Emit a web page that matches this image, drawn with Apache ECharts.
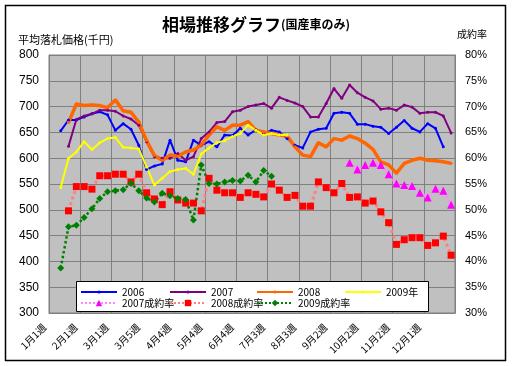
<!DOCTYPE html>
<html><head><meta charset="utf-8">
<script src="https://cdn.jsdelivr.net/npm/echarts@6/dist/echarts.min.js"></script>
<style>html,body{margin:0;padding:0;background:#fff}#c{width:512px;height:366px}</style>
</head><body><div id="c"></div>
<script>
const weeks = ['1月1週','1月2週','1月3週','1月4週','2月1週','2月2週','2月3週','2月4週',
  '3月1週','3月2週','3月3週','3月4週','3月5週','4月1週','4月2週','4月3週',
  '4月4週','5月1週','5月2週','5月3週','5月4週','6月1週','6月2週','6月3週',
  '6月4週','6月5週','7月1週','7月2週','7月3週','7月4週','8月1週','8月2週',
  '8月3週','8月4週','8月5週','9月1週','9月2週','9月3週','9月4週','10月1週',
  '10月2週','10月3週','10月4週','11月1週','11月2週','11月3週','11月4週','11月5週',
  '12月1週','12月2週','12月3週','12月4週'];

const price2006 = [null,653,674,674,680,686,690,684,654,667,656,625,578,585,589,635,596,593,635,625,632,622,645,644,658,645,655,648,654,651,638,625,620,651,656,658,687,689,687,666,666,662,660,648,660,673,658,651,667,658,622,null];
const price2007 = [null,null,623,675,682,686,693,693,691,682,676,664,632,603,600,600,609,596,603,638,651,669,671,690,693,700,703,706,697,718,712,707,700,680,680,706,735,716,742,727,718,711,695,697,693,703,699,687,689,689,682,649];
const price2008 = [null,null,669,705,702,703,702,698,713,692,689,670,634,605,596,606,604,612,616,625,645,661,654,664,664,671,654,651,648,645,643,622,606,603,630,622,638,635,643,638,629,617,593,587,571,590,596,600,596,595,593,590];
const price2009 = [null,543,600,612,632,617,630,638,640,621,620,618,583,548,561,574,578,580,569,608,620,630,634,642,648,664,654,645,648,645,645,null,null,null,null,null,null,null,null,null,null,null,null,null,null,null,null,null,null,null,null,null];
const rate2007 = [null,null,null,null,null,null,null,null,null,null,null,null,null,null,null,null,null,null,null,null,null,null,null,null,null,null,null,null,null,null,null,null,null,null,null,null,null,null,59.1,57.8,58.7,59.1,58.7,56.9,55.1,54.8,54.6,53.3,52.4,54.1,53.7,51.0];
const rate2008 = [null,null,49.8,54.5,54.5,54.0,56.6,56.6,56.9,56.9,55.4,56.9,53.3,52.1,51.0,53.5,51.9,51.3,51.3,49.8,56.1,53.8,53.3,53.3,52.4,53.3,53.0,52.5,55.0,53.8,52.4,52.8,50.7,50.7,55.4,54.3,53.3,55.1,52.4,52.5,51.3,51.7,49.6,47.5,43.3,44.2,44.6,44.6,43.1,43.6,44.9,41.2];
const rate2009 = [null,38.7,46.7,47.0,48.5,50.2,52.2,53.5,53.7,53.9,55.1,53.7,52.3,51.5,53.2,52.7,52.2,52.0,48.0,58.7,55.1,55.0,55.4,55.7,55.6,56.7,55.4,57.6,56.5,null,null,null,null,null,null,null,null,null,null,null,null,null,null,null,null,null,null,null,null,null,null,null];

const seriesNames = ['2006','2007','2008','2009年','2007成約率','2008成約率','2009成約率'];
const priceAxis = {min:300, max:800, step:50};
const rateAxis = {min:30, max:80, step:5};

const FONT = '"Noto Sans CJK JP", "Liberation Sans", sans-serif';
const NUMFONT = '"Liberation Sans", Arial, sans-serif';

function mk(name, data, axis, color, width, symbol, size, lineColor, lineType, symColor) {
  return {
    name, type:'line', data, yAxisIndex:axis, symbol, symbolSize:size,
    showSymbol:true, showAllSymbol:true, connectNulls:false, animation:false,
    lineStyle:{color:lineColor||color, width, type:lineType||'solid'},
    itemStyle:{color:symColor||color, borderWidth:0},
    emphasis:{disabled:true}
  };
}

const series = [
  mk(seriesNames[0], price2006, 0, '#0000FF', 2, 'circle', 3),
  mk(seriesNames[1], price2007, 0, '#800080', 2, 'circle', 3),
  mk(seriesNames[2], price2008, 0, '#FF6600', 3.5, 'circle', 3),
  mk(seriesNames[3], price2009, 0, '#FFFF00', 2, 'circle', 3),
  mk(seriesNames[4], rate2007, 1, '#FF00FF', 3, 'triangle', 8, '#FF88FF', 'dotted'),
  mk(seriesNames[5], rate2008, 1, '#FF0000', 3, 'rect', 7, '#FF8080', 'dotted'),
  mk(seriesNames[6], rate2009, 1, '#008000', 2.5, 'diamond', 7, '#008000', 'dotted')
];

const legPos = [[80,285],[169,285],[256,285],[344,285],[80,298],[169,298],[256,298]];
const legends = seriesNames.map((n,i)=>({
  data:[n], left:legPos[i][0], top:legPos[i][1] + (i < 4 ? 2 : 0), itemWidth:36, itemHeight:(i < 4 ? 4 : 8), itemGap:0,
  padding:0, z:20, selectedMode:false,
  textStyle:{fontSize:10, color:'#000', fontFamily:FONT}
}));

const option = {
  animation:false,
  backgroundColor:'#fff',
  title:{
    text:'{a|相場推移グラフ}{b|(国産車のみ)}', left:'center', top:11,
    textStyle:{rich:{
      a:{fontSize:17, fontWeight:'bold', fontFamily:FONT, color:'#000'},
      b:{fontSize:12, fontWeight:'bold', fontFamily:FONT, color:'#000'}
    }}
  },
  legend: legends,
  grid:{left:49, right:57, top:55, bottom:53, show:true, backgroundColor:'#C0C0C0', borderColor:'#808080', borderWidth:1},
  xAxis:{
    type:'category', data:weeks, boundaryGap:true,
    axisLine:{show:true, lineStyle:{color:'#808080'}},
    axisTick:{show:false},
    splitLine:{show:true, interval:3, lineStyle:{color:'#808080', width:1}},
    axisLabel:{interval:3, rotate:45, fontSize:10, color:'#000', fontFamily:FONT, margin:4, padding:[0,12,0,0]}
  },
  yAxis:[
    {type:'value', min:priceAxis.min, max:priceAxis.max, interval:priceAxis.step,
     axisLine:{show:true, lineStyle:{color:'#808080'}}, axisTick:{show:false},
     splitLine:{show:true, lineStyle:{color:'#808080', width:1}},
     axisLabel:{fontSize:12, color:'#000', fontFamily:NUMFONT, margin:10}},
    {type:'value', min:rateAxis.min, max:rateAxis.max, interval:rateAxis.step,
     axisLine:{show:true, lineStyle:{color:'#808080'}}, axisTick:{show:false},
     splitLine:{show:false},
     axisLabel:{fontSize:11, color:'#000', fontFamily:NUMFONT, margin:10, formatter:'{value}%'}}
  ],
  graphic:[
    {type:'rect', shape:{x:5.5, y:5.5, width:500, height:355}, style:{fill:'none', stroke:'#000', lineWidth:1.5}, z:1, silent:true},
    {type:'rect', shape:{x:76.5, y:281.5, width:352, height:30}, style:{fill:'#fff', stroke:'#000', lineWidth:1}, z:15, silent:true},
    {type:'text', left:18, top:34, style:{text:'平均落札価格(千円)', font:'11px "Noto Sans CJK JP"', fill:'#000'}, z:15},
    {type:'text', left:457, top:29, style:{text:'成約率', font:'10px "Noto Sans CJK JP"', fill:'#000'}, z:15}
  ],
  series
};
const chart = echarts.init(document.getElementById('c'));
chart.setOption(option);
</script>
</body></html>
